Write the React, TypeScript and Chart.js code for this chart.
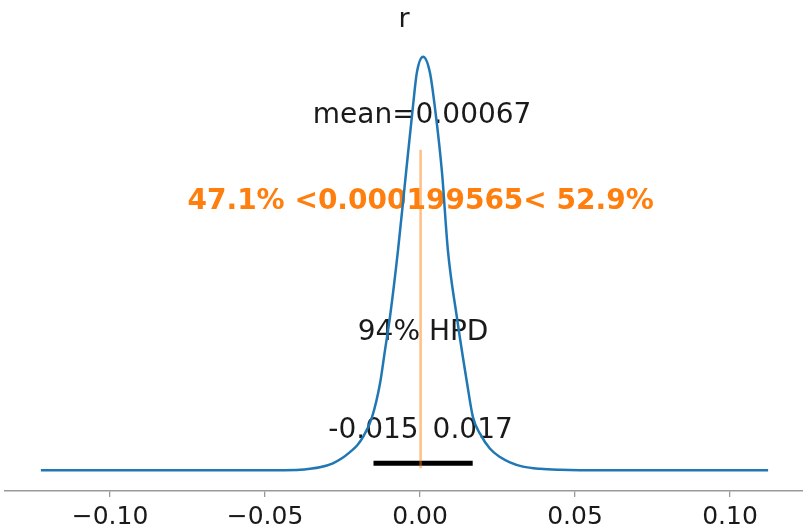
import React, { useEffect, useRef } from "react";
import { Chart, registerables } from "chart.js";

Chart.register(...registerables);

// KDE of posterior "r"
const kdeX = [-0.1223, -0.0710, -0.0442, -0.0387, -0.0355, -0.0323, -0.0281, -0.0252, -0.0226, -0.0203, -0.0184, -0.0155, -0.0129, -0.0113, -0.0097, -0.0071, -0.0045, -0.0023, -0.0010, 0.0010, 0.0032, 0.0048, 0.0071, 0.0090, 0.0119, 0.0152, 0.0171, 0.0194, 0.0226, 0.0258, 0.0290, 0.0332, 0.0387, 0.0452, 0.0516, 0.0903, 0.1123];
const kdeY = [0.005, 0.01, 0.02, 0.06, 0.18, 0.36, 0.85, 1.45, 2.2, 3.0, 4.0, 6.4, 10.5, 14.5, 18.5, 26.6, 36.0, 43.9, 48.1, 50.0, 48.1, 43.9, 36.0, 26.6, 18.5, 10.5, 6.4, 4.4, 2.6, 1.6, 0.97, 0.45, 0.18, 0.06, 0.02, 0.01, 0.005];

const hpdBounds = [-0.015, 0.017];
const hpdLabels = ["-0.015", "0.017"];
const hpdLevel = 0.85;
const meanValue = 0.00067;
const meanLabel = "mean=0.00067";
const refValue = 0.000199565;
const refLabel = "47.1% <0.000199565< 52.9%";
const refSpan = [0.25, 38.75];
const hpdTitle = "94% HPD";
const chartTitle = "r";
const tickValues = [-0.1, -0.05, 0.0, 0.05, 0.1];
const xMin = -0.13387;
const xMax = 0.12355;
const yMin = -2.5;
const yMax = 52.5;

const fmtTick = (v: number) => (v < 0 ? "\u2212" : "") + Math.abs(v).toFixed(2);

export default function App() {
  const ref = useRef<HTMLCanvasElement | null>(null);
  useEffect(() => {
    if (!ref.current) return;
    const textPlugin = {
      id: "annotations",
      beforeDatasetsDraw(chart: any) {
        const { ctx, scales, chartArea } = chart;
        const xs = scales.x;
        const ys = scales.y;
        ctx.save();
        ctx.textAlign = "center";
        ctx.textBaseline = "alphabetic";
        ctx.fillStyle = "#1a1a1a";
        ctx.font = "27px 'DejaVu Sans'";
        ctx.fillText(chartTitle, (chartArea.left + chartArea.right) / 2, 27);
        ctx.font = "28px 'DejaVu Sans'";
        ctx.fillText(meanLabel, xs.getPixelForValue(meanValue), ys.getPixelForValue(41.95));
        ctx.fillText(hpdTitle, xs.getPixelForValue((hpdBounds[0] + hpdBounds[1]) / 2), ys.getPixelForValue(15.7));
        ctx.fillText(hpdLabels[0], xs.getPixelForValue(hpdBounds[0]), ys.getPixelForValue(3.85));
        ctx.fillText(hpdLabels[1], xs.getPixelForValue(hpdBounds[1]), ys.getPixelForValue(3.85));
        ctx.fillStyle = "#ff7f0e";
        ctx.font = "bold 28px 'DejaVu Sans'";
        ctx.fillText(refLabel, xs.getPixelForValue(refValue), ys.getPixelForValue(31.6));
        ctx.restore();
      },
    };

    const chart = new Chart(ref.current, {
      type: "line",
      data: {
        datasets: [
          {
            data: [
              { x: refValue, y: refSpan[0] },
              { x: refValue, y: refSpan[1] },
            ],
            borderColor: "rgba(255,127,14,0.5)",
            borderWidth: 2.5,
            pointRadius: 0,
            order: 0,
          },
          {
            data: hpdBounds.map((x) => ({ x, y: hpdLevel })),
            borderColor: "#000000",
            borderWidth: 5,
            borderCapStyle: "butt",
            pointRadius: 0,
            order: 1,
          },
          {
            data: kdeX.map((x, i) => ({ x, y: kdeY[i] })),
            borderColor: "#1f77b4",
            borderWidth: 2.5,
            pointRadius: 0,
            cubicInterpolationMode: "monotone",
            order: 2,
          },
        ],
      },
      options: {
        animation: false,
        responsive: false,
        parsing: false as any,
        layout: { padding: { left: 5, right: 0, top: 36, bottom: 0 } },
        plugins: { legend: { display: false }, tooltip: { enabled: false }, title: { display: false } },
        scales: {
          x: {
            type: "linear",
            min: xMin,
            max: xMax,
            afterBuildTicks: (scale: any) => {
              scale.ticks = tickValues.map((v) => ({ value: v }));
            },
            afterFit: (scale: any) => {
              scale.height = 39;
            },
            grid: { drawOnChartArea: false, drawTicks: true, tickLength: 6, color: "#999999", lineWidth: 1.3 },
            border: { display: true, color: "#999999", width: 1.5 },
            ticks: {
              color: "#1a1a1a",
              font: { family: "'DejaVu Sans'", size: 25 },
              padding: 5,
              maxRotation: 0,
              autoSkip: false,
              callback: (v: any) => fmtTick(Number(v)),
            },
          },
          y: { type: "linear", min: yMin, max: yMax, display: false },
        },
      },
      plugins: [textPlugin],
    } as any);
    return () => chart.destroy();
  }, []);
  return (
    <div style={{ position: "absolute", left: 0, top: 0, width: 803, height: 530, background: "#fff" }}>
      <canvas ref={ref} width={803} height={530} style={{ width: 803, height: 530 }} />
    </div>
  );
}
